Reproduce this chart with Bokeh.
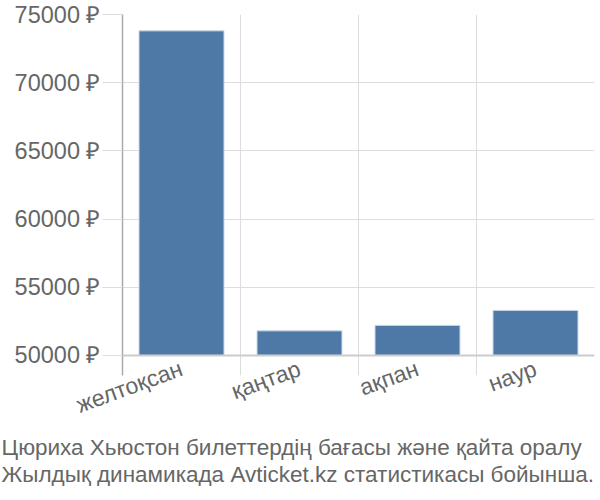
from bokeh.plotting import figure
from bokeh.models import Range1d, FixedTicker, Span, Title, ColumnDataSource
from bokeh.embed import file_html
from bokeh.resources import INLINE
import math

months = ["желтоқсан", "қаңтар", "ақпан", "наур"]
prices = [73800, 51800, 52200, 53300]
y_ticks = [50000, 55000, 60000, 65000, 70000, 75000]
caption1 = "Цюриха Хьюстон билеттердің бағасы және қайта оралу"
caption2 = "Жылдық динамикада Avticket.kz статистикасы бойынша."

FONT = "Liberation Sans"
TXT = "#666666"
base = y_ticks[0]
top = y_ticks[-1]
y_low = base - 20 * (top - base) / 339.0

xs = [i + 0.5 for i in range(len(months))]
src = ColumnDataSource(dict(x=xs, top=prices, bottom=[base] * len(prices)))

p = figure(width=600, height=486, output_backend="svg", toolbar_location=None,
           x_range=Range1d(0, len(months)), y_range=Range1d(y_low, top),
           min_border_left=122, min_border_top=14, min_border_right=6,
           min_border_bottom=0, outline_line_color=None)

p.vbar(x="x", top="top", bottom="bottom", width=0.72, source=src,
       fill_color="#4e79a7", line_color="#c9d6e6", line_width=1)

# x axis
p.xaxis.ticker = FixedTicker(ticks=xs)
p.xaxis.major_label_overrides = {x: m for x, m in zip(xs, months)}
p.xaxis.major_label_orientation = math.radians(20)
p.xaxis.axis_line_color = None
p.xaxis.major_tick_line_color = None
p.xaxis.minor_tick_line_color = None
p.xaxis.major_tick_out = 0
p.xaxis.major_tick_in = 0
p.xaxis.major_label_standoff = -8
p.xaxis.major_label_text_font = FONT
p.xaxis.major_label_text_font_size = "23px"
p.xaxis.major_label_text_color = TXT

p.xgrid.ticker = FixedTicker(ticks=list(range(1, len(months) + 1)))
p.xgrid.grid_line_color = "#dddddd"

# y axis
p.yaxis.ticker = FixedTicker(ticks=y_ticks)
p.yaxis.major_label_overrides = {t: f"{t} ₽" for t in y_ticks}
p.yaxis.axis_line_color = "#aaaaaa"
p.yaxis.axis_line_width = 1.5
p.yaxis.major_tick_line_color = "#dddddd"
p.yaxis.major_tick_out = 20
p.yaxis.major_tick_in = 0
p.yaxis.minor_tick_line_color = None
p.yaxis.major_label_standoff = 2
p.yaxis.major_label_text_font = FONT
p.yaxis.major_label_text_font_size = "23.5px"
p.yaxis.major_label_text_color = TXT
p.ygrid.ticker = FixedTicker(ticks=y_ticks)
p.ygrid.grid_line_color = "#dddddd"

p.add_layout(Span(location=base, dimension="width", line_color="#cccccc", line_width=2))

for c in (caption1, caption2):
    p.add_layout(Title(text=c, align="left", offset=-121, text_font=FONT, text_font_size="22.5px",
                       text_font_style="normal", text_color=TXT, standoff=0), "below")

open("out.html", "w").write(file_html(p, INLINE))
